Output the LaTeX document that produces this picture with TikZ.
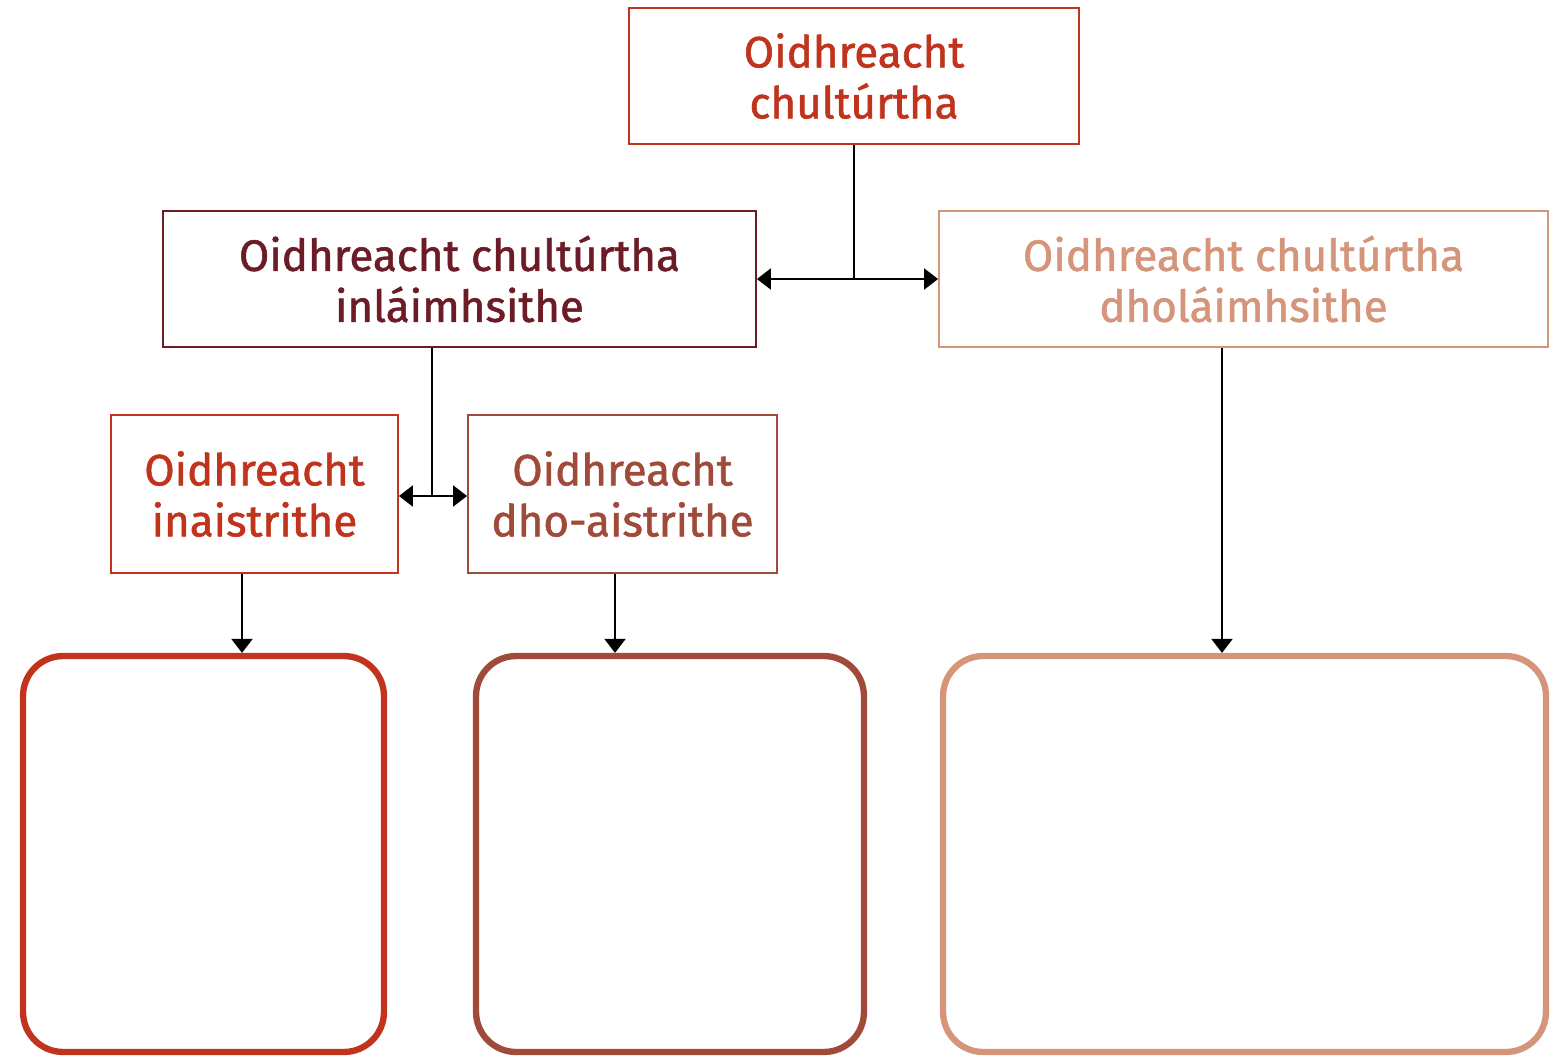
\documentclass[tikz,border=0pt]{standalone}
\usepackage{fontspec}
\setmainfont{Fira Sans}
\newfontfamily\boxfont{Fira Sans}[FakeBold=1.3]
\usetikzlibrary{arrows.meta,positioning}

\definecolor{rust}{HTML}{C0341D}
\definecolor{wine}{HTML}{6B1C26}
\definecolor{brick}{HTML}{A04A3A}
\definecolor{peach}{HTML}{D4957A}

\tikzset{
  label box/.style={draw=#1,text=#1,line width=1.1pt,align=center,
    inner sep=0pt,font=\boxfont\fontsize{25}{29}\selectfont},
  empty box/.style={draw=#1,line width=3.6pt,rounded corners=0.8cm,
    minimum width=7.22cm,minimum height=7.92cm},
  link/.style={line width=1.1pt,-{Triangle[length=8pt,width=12pt]}},
  twoway/.style={line width=1.1pt,{Triangle[length=8pt,width=12pt]}-{Triangle[length=8pt,width=12pt]}}
}

\begin{document}
\begin{tikzpicture}[x=0.02cm,y=-0.02cm]
  \useasboundingbox (0,0) rectangle (1558,1059);

  % heading and the two kinds
  \node[label box=rust,minimum width=9cm,minimum height=2.72cm] (top) at (854,76)
    {Oidhreacht\\chultúrtha};
  \node[label box=wine,minimum width=11.86cm,minimum height=2.72cm] (inl) at (459.5,279)
    {Oidhreacht chultúrtha\\inláimhsithe};
  \node[label box=peach,minimum width=12.18cm,minimum height=2.72cm] (dhol) at (1243.5,279)
    {Oidhreacht chultúrtha\\dholáimhsithe};

  % movable heritage split
  \node[label box=rust,minimum width=5.74cm,minimum height=3.16cm] (inai) at (254.5,494)
    {Oidhreacht\\inaistrithe};
  \node[label box=brick,minimum width=6.18cm,minimum height=3.16cm] (dho) at (622.5,494)
    {Oidhreacht\\dho-aistrithe};

  % blank boxes to fill in
  \node[empty box=rust] (fill1) at (203.5,854) {};
  \node[empty box=brick,minimum width=7.76cm] (fill2) at (670,854) {};
  \node[empty box=peach,minimum width=12.06cm] (fill3) at (1244.5,854) {};

  \coordinate (j1) at (top.south |- inl.east);
  \coordinate (j2) at (432,496);
  \coordinate (x1) at (242,0);
  \coordinate (x2) at (615,0);
  \coordinate (x3) at (1222,0);

  \draw[line width=1.1pt] (top.south) -- (j1);
  \draw[twoway] (inl.east) -- (dhol.west);
  \draw[line width=1.1pt] (inl.south -| j2) -- (j2);
  \draw[twoway] (inai.east |- j2) -- (dho.west |- j2);

  \draw[link] (inai.south -| x1) -- (fill1.north -| x1);
  \draw[link] (dho.south -| x2) -- (fill2.north -| x2);
  \draw[link] (dhol.south -| x3) -- (fill3.north -| x3);
\end{tikzpicture}
\end{document}
